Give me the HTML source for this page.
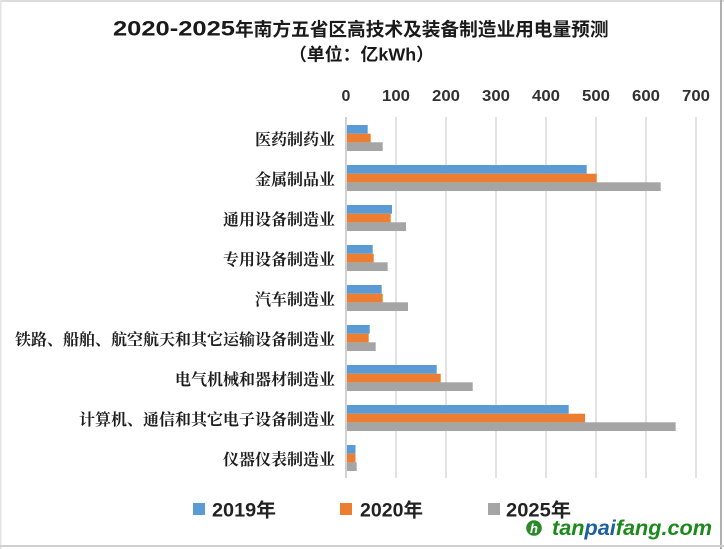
<!DOCTYPE html>
<html>
<head>
<meta charset="utf-8">
<style>
  html, body { margin: 0; padding: 0; background: #fff; }
  svg { display: block; }
</style>
</head>
<body>
<svg width="724" height="549" viewBox="0 0 724 549" xmlns="http://www.w3.org/2000/svg">
  <rect x="0" y="0" width="724" height="549" fill="#ffffff"/>
  <!-- frame -->
  <rect x="0" y="0" width="724" height="2" fill="#dcdcdc"/>
  <rect x="0" y="0" width="1.5" height="549" fill="#e4e4e4"/>
  <rect x="720" y="0" width="2" height="549" fill="#b0b0b0"/>
  <rect x="0" y="545" width="724" height="2" fill="#cfcfcf"/>

  <!-- title -->
  <g font-family="'Liberation Sans','Noto Sans CJK SC',sans-serif" font-weight="bold" fill="#1a1a1a">
    <text x="113" y="35.5" font-size="21" textLength="122" lengthAdjust="spacingAndGlyphs">2020-2025</text>
    <text x="235" y="36" font-size="18.7" font-family="'Noto Sans CJK SC',sans-serif" textLength="373.5" lengthAdjust="spacingAndGlyphs">年南方五省区高技术及装备制造业用电量预测</text>
    <text x="289" y="60.5" font-size="17.5" textLength="145" lengthAdjust="spacingAndGlyphs">（单位：亿kWh）</text>
  </g>

  <!-- gridlines -->
  <g stroke="#d9d9d9" stroke-width="1.5">
    <line x1="396" y1="117" x2="396" y2="478"/>
    <line x1="446" y1="117" x2="446" y2="478"/>
    <line x1="496" y1="117" x2="496" y2="478"/>
    <line x1="546" y1="117" x2="546" y2="478"/>
    <line x1="596" y1="117" x2="596" y2="478"/>
    <line x1="646" y1="117" x2="646" y2="478"/>
    <line x1="696" y1="117" x2="696" y2="478"/>
  </g>
  <line x1="346" y1="117" x2="346" y2="478" stroke="#c4c4c4" stroke-width="1.5"/>

  <!-- tick labels -->
  <g font-family="'Liberation Sans',sans-serif" font-size="16" font-weight="bold" fill="#303030" text-anchor="middle">
    <text x="346" y="101">0</text>
    <text x="396" y="101" textLength="28" lengthAdjust="spacingAndGlyphs">100</text>
    <text x="446" y="101" textLength="28" lengthAdjust="spacingAndGlyphs">200</text>
    <text x="496" y="101" textLength="28" lengthAdjust="spacingAndGlyphs">300</text>
    <text x="546" y="101" textLength="28" lengthAdjust="spacingAndGlyphs">400</text>
    <text x="596" y="101" textLength="28" lengthAdjust="spacingAndGlyphs">500</text>
    <text x="646" y="101" textLength="28" lengthAdjust="spacingAndGlyphs">600</text>
    <text x="696" y="101" textLength="28" lengthAdjust="spacingAndGlyphs">700</text>
  </g>

  <!-- bars -->
  <g>
    <rect x="347" y="125" width="20.7" height="8.7" fill="#5b9bd5"/>
    <rect x="347" y="133.7" width="23.7" height="8.7" fill="#ed7d31"/>
    <rect x="347" y="142.3" width="35.7" height="8.7" fill="#a5a5a5"/>

    <rect x="347" y="165" width="239.7" height="8.7" fill="#5b9bd5"/>
    <rect x="347" y="173.7" width="249.7" height="8.7" fill="#ed7d31"/>
    <rect x="347" y="182.3" width="313.7" height="8.7" fill="#a5a5a5"/>

    <rect x="347" y="205" width="45" height="8.7" fill="#5b9bd5"/>
    <rect x="347" y="213.7" width="43.7" height="8.7" fill="#ed7d31"/>
    <rect x="347" y="222.3" width="59" height="8.7" fill="#a5a5a5"/>

    <rect x="347" y="245" width="25.7" height="8.7" fill="#5b9bd5"/>
    <rect x="347" y="253.7" width="26.7" height="8.7" fill="#ed7d31"/>
    <rect x="347" y="262.3" width="40.7" height="8.7" fill="#a5a5a5"/>

    <rect x="347" y="285" width="34.7" height="8.7" fill="#5b9bd5"/>
    <rect x="347" y="293.7" width="35.7" height="8.7" fill="#ed7d31"/>
    <rect x="347" y="302.3" width="61" height="8.7" fill="#a5a5a5"/>

    <rect x="347" y="325" width="22.7" height="8.7" fill="#5b9bd5"/>
    <rect x="347" y="333.7" width="21.7" height="8.7" fill="#ed7d31"/>
    <rect x="347" y="342.3" width="28.7" height="8.7" fill="#a5a5a5"/>

    <rect x="347" y="365" width="89.7" height="8.7" fill="#5b9bd5"/>
    <rect x="347" y="373.7" width="93.7" height="8.7" fill="#ed7d31"/>
    <rect x="347" y="382.3" width="125.7" height="8.7" fill="#a5a5a5"/>

    <rect x="347" y="405" width="221.7" height="8.7" fill="#5b9bd5"/>
    <rect x="347" y="413.7" width="238" height="8.7" fill="#ed7d31"/>
    <rect x="347" y="422.3" width="328.7" height="8.7" fill="#a5a5a5"/>

    <rect x="347" y="445" width="8.5" height="8.7" fill="#5b9bd5"/>
    <rect x="347" y="453.7" width="8.5" height="8.7" fill="#ed7d31"/>
    <rect x="347" y="462.3" width="9.7" height="8.7" fill="#a5a5a5"/>
  </g>

  <!-- category labels -->
  <g font-family="'Noto Serif CJK SC','Noto Sans CJK SC',serif" font-size="16" font-weight="bold" fill="#1e1e1e" text-anchor="end">
    <text x="335" y="145">医药制药业</text>
    <text x="335" y="185">金属制品业</text>
    <text x="335" y="225">通用设备制造业</text>
    <text x="335" y="265">专用设备制造业</text>
    <text x="335" y="305">汽车制造业</text>
    <text x="335" y="345">铁路、船舶、航空航天和其它运输设备制造业</text>
    <text x="335" y="385">电气机械和器材制造业</text>
    <text x="335" y="425">计算机、通信和其它电子设备制造业</text>
    <text x="335" y="465">仪器仪表制造业</text>
  </g>

  <!-- legend -->
  <rect x="193" y="503" width="12" height="12" fill="#5b9bd5"/>
  <rect x="340" y="503" width="12" height="12" fill="#ed7d31"/>
  <rect x="488" y="503" width="12" height="12" fill="#a5a5a5"/>
  <g font-family="'Liberation Sans','Noto Sans CJK SC',sans-serif" font-size="19" font-weight="bold" fill="#222222">
    <text x="212" y="516.5" textLength="64" lengthAdjust="spacingAndGlyphs">2019年</text>
    <text x="360" y="516.5" textLength="63" lengthAdjust="spacingAndGlyphs">2020年</text>
    <text x="506" y="516.5" textLength="65" lengthAdjust="spacingAndGlyphs">2025年</text>
  </g>

  <!-- watermark -->
  <circle cx="534" cy="528" r="7.8" fill="#2a8a2a"/>
  <text x="530" y="533" font-family="'Liberation Sans',sans-serif" font-size="13" font-weight="bold" font-style="italic" fill="#ffffff">h</text>
  <text x="552" y="535" font-family="'Liberation Sans',sans-serif" font-size="21" font-weight="bold" font-style="italic" textLength="160" lengthAdjust="spacingAndGlyphs" fill="#1b8a1b">tan<tspan fill="#1f5fa0">pai</tspan>fang.com</text>
</svg>
</body>
</html>
